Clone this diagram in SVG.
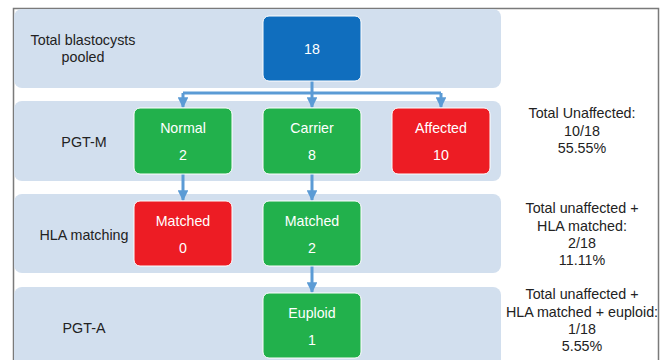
<svg xmlns="http://www.w3.org/2000/svg" width="667" height="360" viewBox="0 0 667 360">
<defs>
<style>
.band{fill:#D2DFEE}
.lbl{font-family:"Liberation Sans",Arial,sans-serif;font-size:14.3px;fill:#222;text-anchor:middle}
.nt{font-family:"Liberation Sans",Arial,sans-serif;font-size:14.2px;fill:#fff;text-anchor:middle}
.green{fill:#22B14C;stroke:#fff;stroke-width:1}
.red{fill:#ED1C24;stroke:#fff;stroke-width:1}
.blue{fill:#106EBE;stroke:#fff;stroke-width:1}
.conn{stroke:#5B9BD5;stroke-width:3;fill:none}
</style>
<marker id="ah" viewBox="0 0 10 10" refX="9" refY="5" markerWidth="3.6" markerHeight="3.6" orient="auto" markerUnits="strokeWidth">
<path d="M0,0 L10,5 L0,10 z" fill="#5B9BD5"/>
</marker>
</defs>
<rect x="0" y="0" width="667" height="360" fill="#fff"/>
<g id="frame">
<path d="M13.5,360 L13.5,8.5 L658.5,8.5 L658.5,360" fill="none" stroke="#7A7A7A" stroke-width="1.5"/>
</g>
<g id="bands">
<rect class="band" x="14" y="9" width="487" height="79" rx="8"/>
<rect class="band" x="14" y="101" width="487" height="80" rx="8"/>
<rect class="band" x="14" y="194" width="487" height="79" rx="8"/>
<rect class="band" x="14" y="287" width="487" height="85" rx="8"/>
</g>
<g id="stage-labels">
<text class="lbl" x="83" y="45">Total blastocysts</text>
<text class="lbl" x="83" y="62">pooled</text>
<text class="lbl" x="84" y="147">PGT-M</text>
<text class="lbl" x="84" y="240">HLA matching</text>
<text class="lbl" x="84" y="333">PGT-A</text>
</g>
<g id="connectors">
<path class="conn" d="M312,81 L312,93"/>
<path class="conn" d="M183,93 L441,93"/>
<path class="conn" d="M183,93 L183,107" marker-end="url(#ah)"/>
<path class="conn" d="M312,93 L312,107" marker-end="url(#ah)"/>
<path class="conn" d="M441,93 L441,107" marker-end="url(#ah)"/>
<path class="conn" d="M183,174 L183,200" marker-end="url(#ah)"/>
<path class="conn" d="M312,174 L312,200" marker-end="url(#ah)"/>
<path class="conn" d="M312,266 L312,292" marker-end="url(#ah)"/>
</g>
<g id="node-total">
<rect class="blue" x="263" y="16" width="98" height="65" rx="6"/>
<text class="nt" x="312" y="54">18</text>
</g>
<g id="node-normal">
<rect class="green" x="134" y="108" width="98" height="66" rx="6"/>
<text class="nt" x="183" y="133">Normal</text>
<text class="nt" x="183" y="160">2</text>
</g>
<g id="node-carrier">
<rect class="green" x="263" y="108" width="98" height="66" rx="6"/>
<text class="nt" x="312" y="133">Carrier</text>
<text class="nt" x="312" y="160">8</text>
</g>
<g id="node-affected">
<rect class="red" x="392" y="108" width="98" height="66" rx="6"/>
<text class="nt" x="441" y="133">Affected</text>
<text class="nt" x="441" y="160">10</text>
</g>
<g id="node-matched-0">
<rect class="red" x="134" y="201" width="98" height="65" rx="6"/>
<text class="nt" x="183" y="226">Matched</text>
<text class="nt" x="183" y="253">0</text>
</g>
<g id="node-matched-2">
<rect class="green" x="263" y="201" width="98" height="65" rx="6"/>
<text class="nt" x="312" y="226">Matched</text>
<text class="nt" x="312" y="253">2</text>
</g>
<g id="node-euploid">
<rect class="green" x="263" y="293" width="98" height="65" rx="6"/>
<text class="nt" x="312" y="318">Euploid</text>
<text class="nt" x="312" y="345">1</text>
</g>
<g id="summaries">
<text class="lbl" x="582" y="118">Total Unaffected:</text>
<text class="lbl" x="582" y="136">10/18</text>
<text class="lbl" x="582" y="153">55.55%</text>
<text class="lbl" x="582" y="213">Total unaffected +</text>
<text class="lbl" x="582" y="231">HLA matched:</text>
<text class="lbl" x="582" y="248">2/18</text>
<text class="lbl" x="582" y="265">11.11%</text>
<text class="lbl" x="582" y="299">Total unaffected +</text>
<text class="lbl" x="582" y="317">HLA matched + euploid:</text>
<text class="lbl" x="582" y="334">1/18</text>
<text class="lbl" x="582" y="351">5.55%</text>
</g>
</svg>
